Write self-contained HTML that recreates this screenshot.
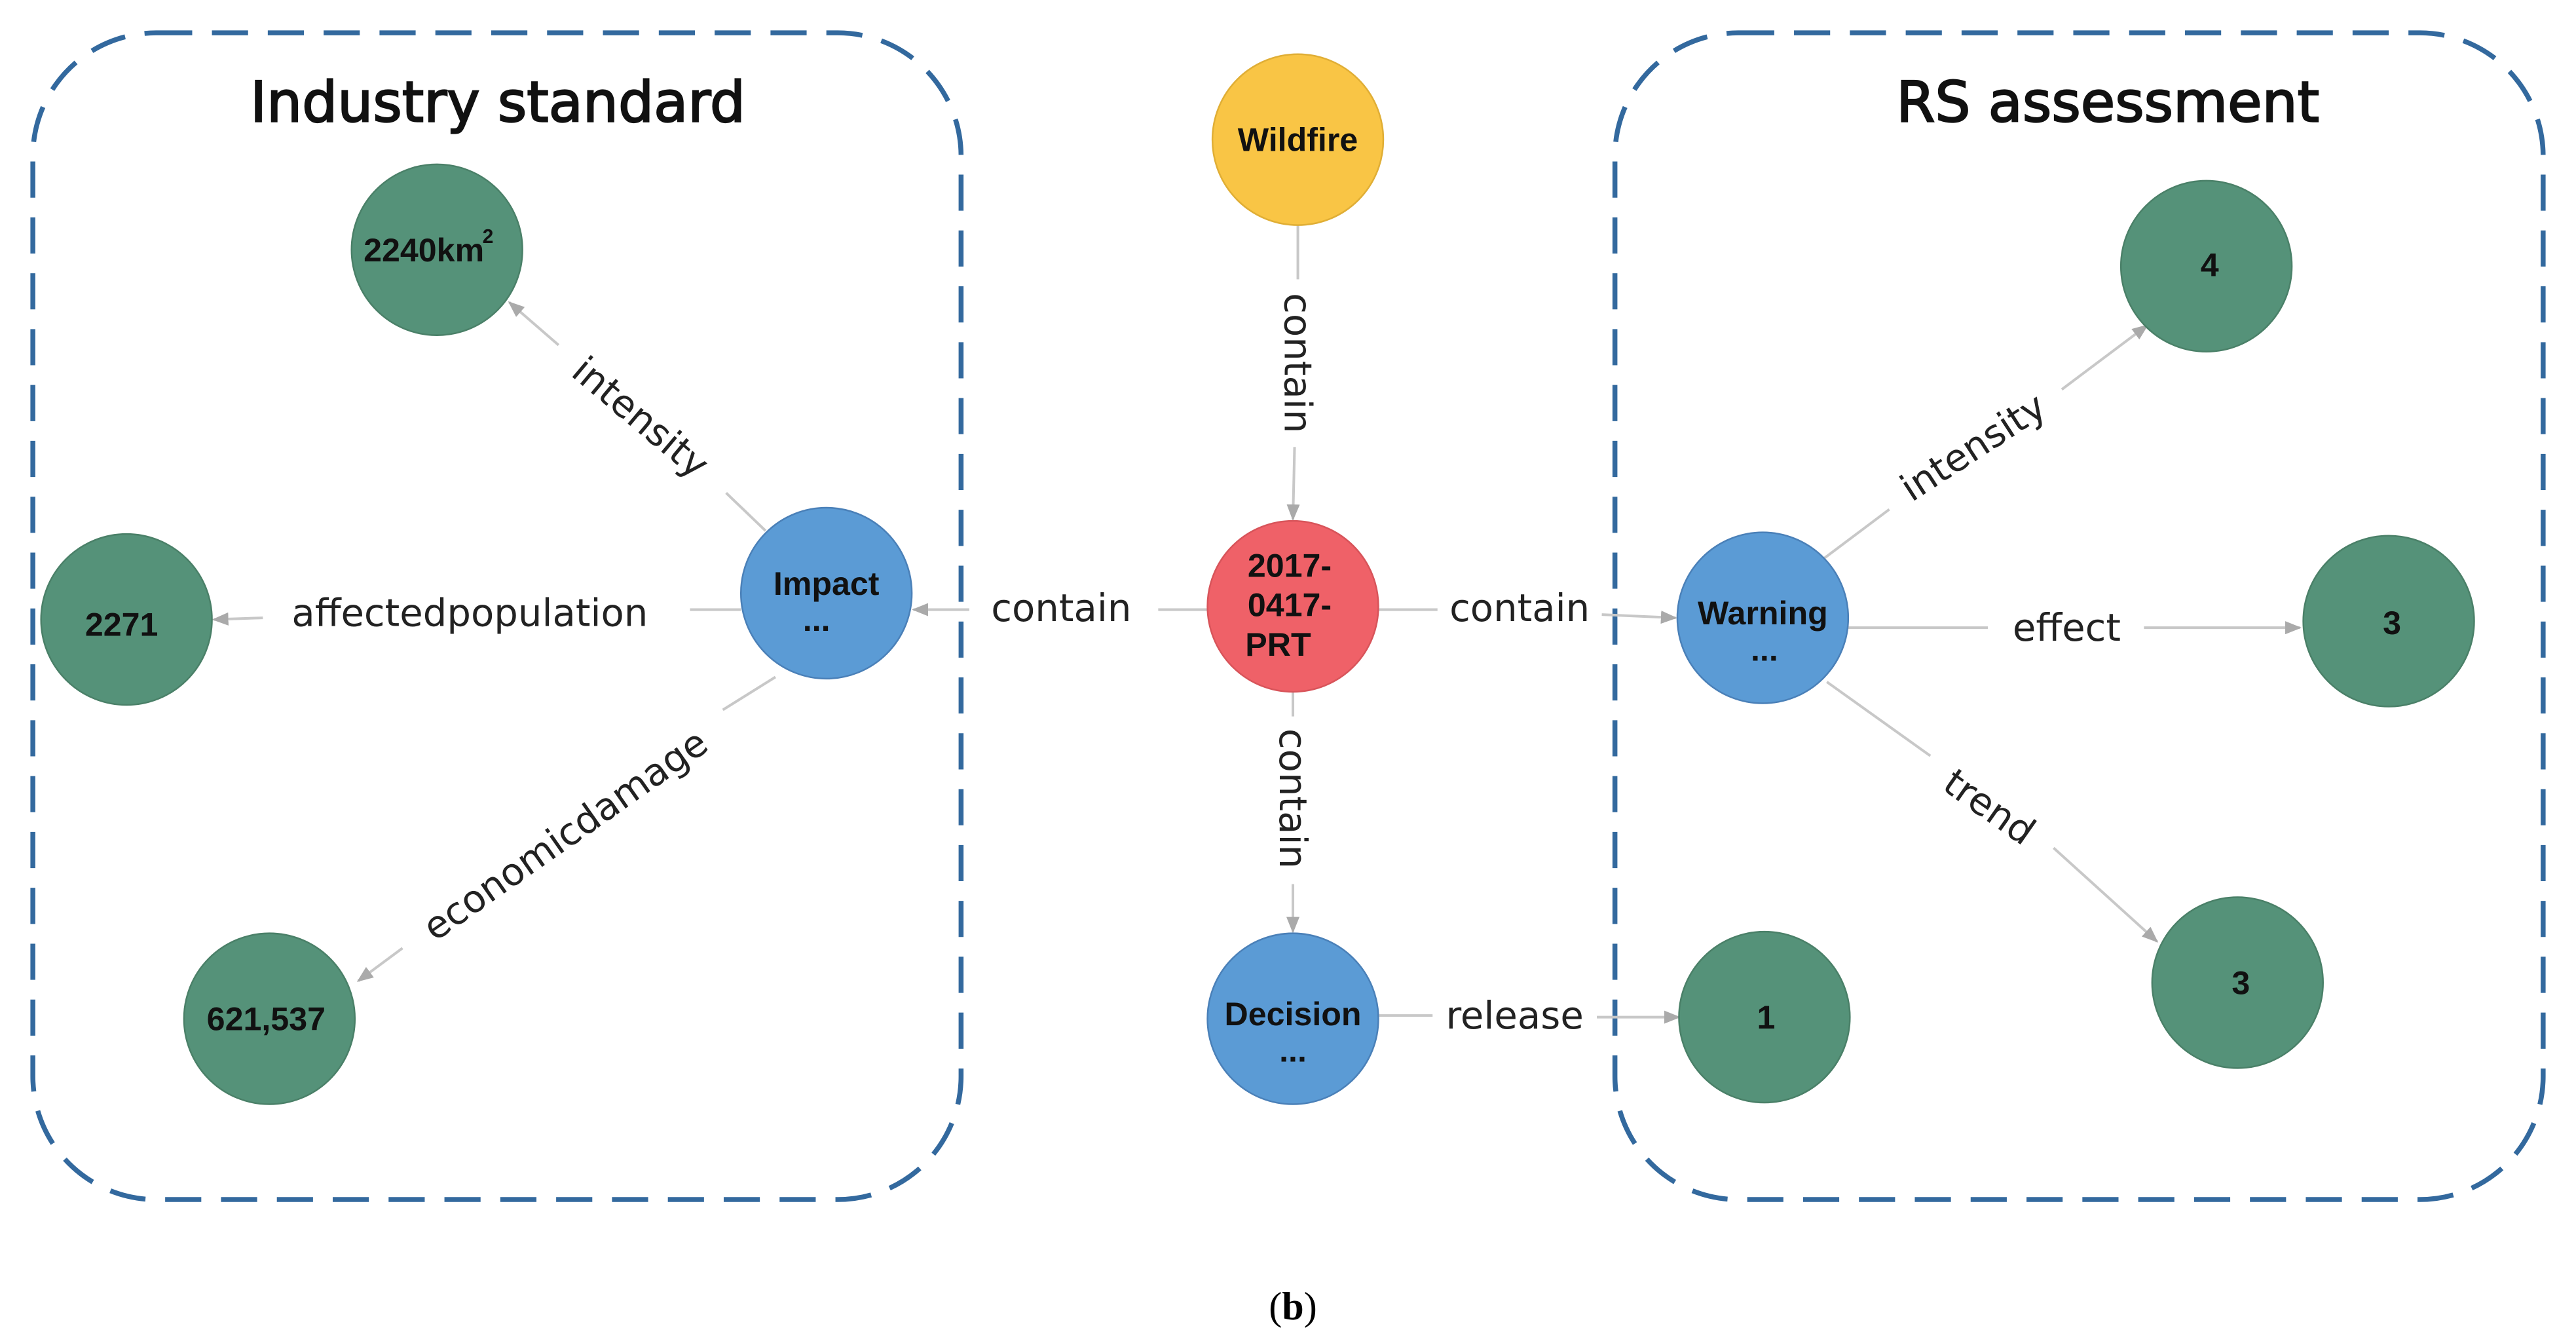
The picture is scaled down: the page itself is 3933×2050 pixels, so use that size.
<!DOCTYPE html>
<html><head><meta charset="utf-8"><style>
html,body{margin:0;padding:0;background:#fff;}
svg{display:block;}
.n{font-family:"Liberation Sans",sans-serif;font-weight:bold;font-size:20px;fill:#111;text-anchor:middle;}
.e{font-family:"DejaVu Sans","Liberation Sans",sans-serif;font-size:23px;fill:#222;text-anchor:middle;dominant-baseline:central;}
.t{font-family:"DejaVu Sans","Liberation Sans",sans-serif;font-size:34px;fill:#111;stroke:#111;stroke-width:0.9;text-anchor:middle;}
.l{stroke:#c8c8c8;stroke-width:1.6;fill:none;}
.g{fill:#559279;stroke:#4a8068;stroke-width:1;}
.b{fill:#5b9bd5;stroke:#4a80b8;stroke-width:1;}
</style></head><body>
<svg width="3933" height="2050" viewBox="0 0 1568 817.3" preserveAspectRatio="none" xmlns="http://www.w3.org/2000/svg">
<defs><marker id="a" markerWidth="10" markerHeight="8" refX="9" refY="4" orient="auto" markerUnits="userSpaceOnUse"><path d="M0,0 L10,4 L0,8z" fill="#aaa"/></marker></defs>
<rect x="20" y="20" width="565" height="710" rx="75" fill="none" stroke="#33699e" stroke-width="3" stroke-dasharray="22 12"/>
<rect x="983" y="20" width="565" height="710" rx="75" fill="none" stroke="#33699e" stroke-width="3" stroke-dasharray="22 12"/>
<text class="t" x="303" y="74">Industry standard</text>
<text class="t" x="1283" y="74">RS assessment</text>

<line class="l" x1="790" y1="137" x2="790" y2="170"/>
<line class="l" x1="788" y1="272" x2="787" y2="316" marker-end="url(#a)"/>
<text class="e" transform="translate(790,221) rotate(90)">contain</text>
<line class="l" x1="787" y1="421" x2="787" y2="436"/>
<line class="l" x1="787" y1="538" x2="787" y2="567" marker-end="url(#a)"/>
<text class="e" transform="translate(787,486) rotate(90)">contain</text>
<line class="l" x1="735" y1="371" x2="705" y2="371"/>
<line class="l" x1="590" y1="371" x2="556" y2="371" marker-end="url(#a)"/>
<text class="e" x="646" y="370">contain</text>
<line class="l" x1="839" y1="371" x2="875" y2="371"/>
<line class="l" x1="975" y1="374" x2="1020" y2="376" marker-end="url(#a)"/>
<text class="e" x="925" y="370">contain</text>
<line class="l" x1="839" y1="618" x2="872" y2="618"/>
<line class="l" x1="972" y1="619" x2="1022" y2="619" marker-end="url(#a)"/>
<text class="e" x="922" y="618">release</text>
<line class="l" x1="420" y1="371" x2="451" y2="371"/>
<line class="l" x1="160" y1="376" x2="130" y2="377" marker-end="url(#a)"/>
<text class="e" x="286" y="373">affectedpopulation</text>
<line class="l" x1="466" y1="323" x2="442" y2="300"/>
<line class="l" x1="340" y1="210" x2="310" y2="184" marker-end="url(#a)"/>
<text class="e" transform="translate(390,254) rotate(40)">intensity</text>
<line class="l" x1="472" y1="412" x2="440" y2="432"/>
<line class="l" x1="245" y1="577" x2="218" y2="597" marker-end="url(#a)"/>
<text class="e" transform="translate(344,508) rotate(-35)">economicdamage</text>
<line class="l" x1="1110" y1="340" x2="1150" y2="310"/>
<line class="l" x1="1255" y1="237" x2="1307" y2="198" marker-end="url(#a)"/>
<text class="e" transform="translate(1201,272) rotate(-33)">intensity</text>
<line class="l" x1="1124" y1="382" x2="1210" y2="382"/>
<line class="l" x1="1305" y1="382" x2="1400" y2="382" marker-end="url(#a)"/>
<text class="e" x="1258" y="382">effect</text>
<line class="l" x1="1112" y1="415" x2="1175" y2="460"/>
<line class="l" x1="1250" y1="516" x2="1313" y2="573" marker-end="url(#a)"/>
<text class="e" transform="translate(1211,491) rotate(35)">trend</text>

<circle cx="790" cy="85" r="52" fill="#f9c545" stroke="#e0ae35"/>
<text class="n" x="790" y="92">Wildfire</text>
<circle cx="787" cy="369" r="52" fill="#ef6168" stroke="#d8545a"/>
<text class="n" x="785" y="351">2017-</text>
<text class="n" x="785" y="375">0417-</text>
<text class="n" x="778" y="399">PRT</text>
<circle class="b" cx="787" cy="620" r="52"/>
<text class="n" x="787" y="624">Decision</text>
<text class="n" x="787" y="646">...</text>
<circle class="b" cx="503" cy="361" r="52"/>
<text class="n" x="503" y="362">Impact</text>
<text class="n" x="497" y="384">...</text>
<circle class="b" cx="1073" cy="376" r="52"/>
<text class="n" x="1073" y="380">Warning</text>
<text class="n" x="1074" y="402">...</text>
<circle class="g" cx="266" cy="152" r="52"/>
<text class="n" x="258" y="159">2240km</text><text class="n" x="297" y="148" style="font-size:12px">2</text>
<circle class="g" cx="77" cy="377" r="52"/>
<text class="n" x="74" y="387">2271</text>
<circle class="g" cx="164" cy="620" r="52"/>
<text class="n" x="162" y="627">621,537</text>
<circle class="g" cx="1343" cy="162" r="52"/>
<text class="n" x="1345" y="168">4</text>
<circle class="g" cx="1454" cy="378" r="52"/>
<text class="n" x="1456" y="386">3</text>
<circle class="g" cx="1362" cy="598" r="52"/>
<text class="n" x="1364" y="605">3</text>
<circle class="g" cx="1074" cy="619" r="52"/>
<text class="n" x="1075" y="626">1</text>

<text x="787" y="803" style="font-family:'Liberation Serif',serif;font-size:24px;text-anchor:middle;fill:#000">(<tspan font-weight="bold">b</tspan>)</text>
</svg>
</body></html>
